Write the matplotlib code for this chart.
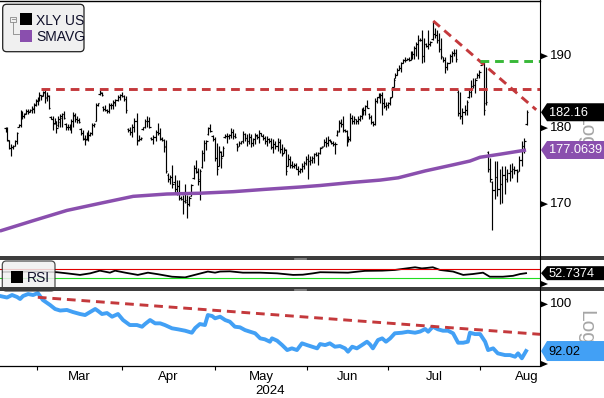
import numpy as np
import pandas as pd
import matplotlib
matplotlib.use('Agg')
import matplotlib.pyplot as plt
from matplotlib.patches import Polygon, FancyBboxPatch, Rectangle

plt.rcParams['font.family'] = ['Liberation Sans Narrow', 'Liberation Sans', 'DejaVu Sans']

W, H = 604, 398

# XLY US bars (two bars per trading day)
highs = [
    180.2, 180.2, 178.4, 177.9, 177.7, 178.4, 179.5, 180.5, 182.5, 182.3,
    182.0, 182.6, 182.6, 182.6, 183.0, 183.5, 184.0, 184.2, 185.0, 184.6,
    185.1, 185.4, 184.9, 184.6, 181.6, 181.6, 181.4, 180.9, 181.6, 181.9,
    182.1, 182.3, 180.7, 180.5, 180.5, 181.2, 182.2, 182.1, 181.6, 181.4,
    180.0, 179.8, 179.1, 179.5, 179.8, 179.5, 180.7, 180.7, 183.5, 183.5,
    185.3, 184.9, 183.0, 183.2, 182.6, 183.5, 183.5, 183.9, 184.0, 184.6,
    184.7, 184.9, 184.6, 184.4, 180.0, 180.2, 180.5, 181.4, 182.1, 179.1,
    178.8, 180.2, 181.2, 181.6, 181.5, 178.8, 179.1, 179.8, 180.7, 180.0,
    178.8, 178.6, 178.4, 174.0, 173.8, 175.1, 173.8, 173.1, 173.1, 171.0,
    171.2, 172.6, 171.2, 171.0, 172.6, 175.1, 175.8, 174.7, 174.5, 177.1,
    178.4, 178.4, 180.2, 180.5, 179.1, 178.8, 178.0, 177.6, 176.9, 177.6,
    179.2, 179.4, 179.2, 180.0, 179.9, 179.4, 178.0, 178.3, 178.3, 179.6,
    179.4, 179.2, 179.3, 179.2, 178.7, 179.4, 179.2, 179.7, 179.4, 179.2,
    178.9, 178.9, 178.7, 178.7, 178.5, 178.3, 178.7, 178.5, 177.8, 177.4,
    177.2, 176.5, 176.2, 175.6, 175.4, 175.4, 174.9, 174.7, 175.4, 175.6,
    176.2, 176.5, 176.2, 176.2, 176.7, 176.8, 176.8, 177.4, 177.6, 178.6,
    178.8, 179.0, 178.6, 178.3, 178.3, 178.1, 179.7, 181.1, 181.3, 181.6,
    179.9, 179.7, 179.0, 182.0, 181.8, 181.6, 181.3, 181.6, 181.8, 182.7,
    182.9, 183.2, 183.9, 182.0, 181.8, 180.9, 184.1, 184.3, 184.8, 184.8,
    185.0, 184.1, 183.6, 183.6, 184.3, 185.7, 186.9, 187.6, 188.3, 188.7,
    189.2, 189.6, 189.9, 189.7, 189.9, 190.7, 190.8, 191.5, 192.0, 193.1,
    192.6, 193.8, 192.6, 191.9, 193.8, 192.2, 195.0, 194.0, 193.8, 193.3,
    192.6, 189.9, 189.9, 189.2, 190.3, 190.8, 191.1, 191.0, 185.3, 185.0,
    182.7, 183.2, 183.9, 185.3, 186.6, 186.9, 186.9, 187.6, 188.0, 189.4,
    189.2, 188.5, 176.9, 176.0, 173.0, 175.6, 175.6, 174.5, 175.0, 175.0,
    174.5, 175.2, 175.3, 175.0, 174.5, 176.2, 178.2, 178.7, 182.5,
]
lows = [
    179.5, 178.2, 177.2, 176.2, 177.2, 177.6, 177.9, 180.1, 180.2, 181.3,
    181.4, 181.9, 181.9, 182.2, 182.1, 182.1, 183.0, 183.2, 183.7, 183.9,
    184.4, 183.5, 183.7, 182.6, 181.2, 179.8, 180.5, 179.3, 180.2, 180.2,
    180.2, 181.2, 179.8, 179.8, 179.7, 179.3, 180.2, 180.8, 180.7, 180.7,
    179.1, 178.4, 177.7, 178.4, 178.2, 178.9, 179.1, 180.2, 180.9, 183.0,
    184.6, 184.4, 182.3, 182.3, 182.1, 182.1, 182.6, 182.6, 183.0, 183.7,
    183.9, 184.2, 183.7, 182.1, 179.5, 179.1, 178.8, 179.5, 177.7, 178.2,
    178.4, 179.8, 180.0, 180.2, 180.0, 178.4, 177.9, 178.2, 179.1, 178.4,
    178.2, 176.8, 174.0, 172.8, 172.6, 172.1, 171.4, 171.2, 170.5, 170.5,
    168.7, 170.1, 168.3, 169.8, 171.0, 173.3, 174.0, 172.4, 170.5, 174.7,
    175.6, 177.0, 179.1, 179.5, 178.2, 175.6, 173.8, 174.9, 174.7, 176.2,
    178.7, 178.0, 178.6, 178.7, 178.5, 178.7, 176.9, 177.6, 177.8, 178.0,
    178.3, 177.6, 177.8, 177.5, 177.6, 177.9, 178.5, 178.0, 178.9, 178.4,
    177.8, 177.6, 178.0, 177.2, 176.7, 177.2, 176.9, 176.7, 176.2, 176.7,
    173.8, 174.9, 174.7, 174.7, 174.7, 174.5, 173.8, 174.0, 174.2, 174.5,
    175.1, 173.3, 175.1, 175.4, 175.4, 176.2, 175.1, 176.5, 177.4, 177.6,
    177.4, 177.6, 178.1, 177.9, 177.6, 176.5, 179.0, 179.5, 180.2, 179.5,
    179.5, 177.6, 178.1, 178.3, 180.6, 180.6, 180.6, 180.6, 180.9, 181.3,
    181.8, 181.8, 182.7, 181.3, 180.6, 180.3, 180.4, 183.4, 184.1, 183.4,
    181.8, 182.7, 182.5, 182.7, 183.2, 184.3, 185.7, 186.9, 187.3, 188.0,
    187.8, 189.0, 189.2, 189.4, 189.3, 189.4, 189.6, 189.6, 190.1, 189.6,
    192.2, 189.0, 189.2, 191.3, 191.0, 191.5, 192.4, 192.6, 191.9, 190.6,
    189.6, 189.2, 187.6, 188.0, 189.0, 189.2, 190.1, 189.2, 181.6, 181.3,
    180.6, 181.8, 181.8, 184.1, 184.3, 185.5, 184.8, 186.9, 186.9, 188.7,
    181.8, 183.2, 174.2, 172.8, 166.7, 170.6, 171.1, 170.0, 170.2, 171.3,
    172.8, 173.0, 173.4, 173.9, 172.8, 174.3, 175.0, 176.6, 180.4,
]
opens = [
    180.0, 179.6, 178.3, 177.3, 177.4, 177.6, 178.2, 180.1, 180.4, 181.8,
    181.6, 182.0, 182.3, 182.3, 182.4, 182.6, 183.2, 183.7, 183.9, 184.5,
    184.5, 184.8, 184.2, 184.4, 181.5, 181.2, 180.7, 180.7, 180.4, 180.8,
    181.4, 181.9, 180.5, 180.1, 180.2, 179.9, 181.0, 181.7, 181.2, 181.1,
    179.9, 179.4, 178.6, 178.5, 178.9, 179.1, 179.4, 180.4, 181.0, 183.2,
    184.7, 184.8, 182.9, 182.6, 182.5, 182.3, 183.1, 183.2, 183.5, 183.9,
    184.3, 184.5, 184.4, 184.0, 179.9, 179.7, 179.5, 180.2, 181.0, 178.4,
    178.6, 179.9, 180.2, 180.9, 181.0, 178.7, 178.5, 178.8, 179.5, 179.4,
    178.6, 178.4, 177.6, 173.8, 173.2, 173.5, 172.8, 172.0, 172.3, 170.8,
    170.6, 170.4, 170.3, 170.0, 171.1, 173.4, 174.7, 174.2, 173.0, 174.8,
    176.6, 178.0, 179.2, 180.0, 178.9, 178.5, 176.0, 174.9, 176.8, 176.3,
    178.8, 179.0, 178.9, 179.1, 179.5, 179.0, 177.9, 177.6, 178.0, 178.2,
    179.2, 178.7, 178.3, 178.8, 178.0, 178.5, 179.0, 178.8, 179.3, 179.0,
    178.7, 178.3, 178.5, 178.2, 177.5, 177.9, 177.6, 178.1, 177.2, 176.6,
    177.1, 174.9, 175.9, 175.1, 175.0, 175.1, 174.6, 174.3, 174.6, 175.0,
    175.4, 175.9, 175.6, 175.8, 176.0, 176.5, 176.4, 176.6, 177.4, 177.6,
    178.1, 178.0, 178.4, 178.2, 178.0, 177.9, 179.1, 179.6, 180.7, 180.6,
    179.8, 179.6, 178.3, 178.6, 181.4, 181.0, 181.2, 180.9, 181.3, 181.6,
    182.3, 182.5, 183.0, 181.9, 181.5, 180.8, 180.6, 183.7, 184.2, 184.4,
    184.5, 183.4, 183.0, 183.1, 183.4, 184.3, 185.7, 186.9, 187.4, 188.1,
    188.3, 189.0, 189.4, 189.5, 189.6, 189.5, 190.4, 190.3, 191.2, 191.8,
    192.4, 192.3, 190.0, 191.8, 191.5, 191.8, 192.5, 193.2, 193.0, 192.4,
    191.0, 189.9, 189.4, 188.4, 189.0, 190.0, 190.4, 190.5, 185.0, 182.0,
    181.6, 182.2, 182.4, 184.2, 185.0, 185.8, 186.0, 186.9, 187.4, 188.8,
    189.2, 183.4, 176.8, 174.6, 172.8, 171.8, 173.5, 172.0, 172.6, 173.8,
    173.2, 174.0, 174.3, 174.6, 174.4, 174.3, 175.8, 177.6, 180.5,
]
closes = [
    179.6, 178.4, 177.3, 177.4, 177.6, 178.3, 179.3, 180.4, 181.8, 181.6,
    181.9, 182.3, 182.2, 182.4, 182.8, 183.3, 183.8, 183.9, 184.6, 184.4,
    184.9, 184.1, 184.6, 182.8, 181.3, 180.5, 180.9, 180.0, 181.2, 181.6,
    181.9, 181.4, 180.1, 180.2, 180.0, 181.0, 181.8, 181.2, 181.1, 180.8,
    179.4, 178.7, 178.4, 178.9, 179.1, 179.4, 180.4, 180.6, 183.2, 183.4,
    184.9, 184.5, 182.6, 182.5, 182.3, 183.1, 183.2, 183.6, 183.9, 184.3,
    184.5, 184.4, 184.0, 182.4, 179.7, 179.5, 180.2, 180.9, 178.3, 178.6,
    178.7, 180.1, 180.9, 181.0, 180.2, 178.5, 178.8, 179.5, 179.4, 178.7,
    178.4, 177.4, 174.3, 173.2, 173.5, 172.6, 172.0, 172.3, 170.8, 170.7,
    170.4, 170.5, 170.0, 170.8, 172.4, 174.7, 174.3, 173.2, 174.3, 176.6,
    178.0, 178.2, 180.0, 179.6, 178.5, 176.0, 174.6, 176.9, 176.0, 177.3,
    179.0, 178.9, 179.1, 179.5, 179.0, 178.8, 177.4, 178.0, 178.2, 179.2,
    178.7, 178.3, 178.8, 178.0, 178.5, 179.1, 178.8, 179.3, 179.0, 178.7,
    178.3, 178.5, 178.2, 177.5, 177.9, 177.6, 178.1, 177.2, 176.5, 177.2,
    174.3, 175.9, 175.1, 175.0, 175.1, 174.6, 174.3, 174.6, 175.0, 175.4,
    175.9, 175.6, 175.8, 176.0, 176.5, 176.4, 176.6, 177.3, 177.5, 178.1,
    178.0, 178.4, 178.2, 178.0, 177.9, 177.8, 179.5, 180.8, 180.6, 179.8,
    179.6, 178.3, 178.6, 181.4, 181.0, 181.2, 180.9, 181.3, 181.6, 182.3,
    182.5, 183.0, 182.8, 181.5, 180.8, 180.6, 183.7, 184.2, 184.4, 184.5,
    183.4, 183.0, 183.1, 183.4, 184.1, 185.6, 186.6, 187.3, 188.1, 188.3,
    189.0, 189.4, 189.5, 189.6, 189.5, 190.4, 190.3, 191.2, 191.8, 192.4,
    192.3, 190.0, 191.8, 191.5, 191.8, 192.0, 193.2, 193.0, 192.4, 191.0,
    190.0, 189.4, 188.4, 189.0, 190.0, 190.4, 190.5, 189.6, 182.0, 181.6,
    182.2, 182.4, 183.6, 185.0, 185.8, 186.0, 186.6, 187.4, 187.7, 189.2,
    182.4, 183.6, 174.6, 173.2, 171.8, 173.5, 172.0, 172.6, 173.8, 173.2,
    174.0, 174.3, 174.6, 174.4, 174.2, 175.8, 177.6, 178.2, 182.16,
]
assert len(highs) == len(lows) == len(opens) == len(closes)

# time of some bars, in trading days since 16 Feb 2024
anchor_bar = [0, 55, 105, 157, 211, 228, 244, 258]
anchor_day = [0.95, 25.5, 50.5, 75.5, 99.6, 108.2, 116.3, 124.45]

# SMAVG (200d)
sma_day = [-0.4, 7.5, 15.5, 23.3, 31.2, 39.2, 47.0, 54.9, 62.4, 70.7,
           75.5, 83.1, 89.7, 94.0, 100.4, 107.0, 111.0, 113.4, 118.1, 124.3]
sma_val = [166.6, 167.9, 169.2, 170.1, 171.0, 171.3, 171.4, 171.6, 171.9, 172.2,
           172.4, 172.8, 173.1, 173.4, 174.3, 175.1, 175.6, 176.1, 176.5, 177.06]

# RSI
rsi_day = [0.35, 6.75, 13.1, 15.5, 18.6, 21.0, 23.3, 25.7, 26.9, 29.3,
           32.3, 34.7, 37.1, 40.4, 43.5, 46.6, 48.9, 50.6, 51.8, 54.1,
           57.2, 61.3, 65.3, 69.1, 71.4, 73.8, 75.5, 79.0, 82.1, 86.1,
           90.2, 93.2, 95.6, 98.0, 99.6, 100.8, 102.2, 103.9, 107.0, 109.4,
           111.7, 114.1, 115.7, 118.8, 121.2, 122.9, 124.3]
rsi_val = [58, 60, 57, 52, 45, 52, 64, 55, 64, 55,
           45, 55, 48, 37, 34, 49, 60, 55, 60, 61,
           55, 55, 52, 45, 46, 52, 57, 56, 55, 63,
           64, 67, 73, 79, 74, 76, 79, 67, 60, 45,
           49, 55, 37, 37, 41, 49, 52.74]

# relative line (lower panel)
rel_day = [-0.36, 1.3, 2.5, 3.7, 4.4, 5.1, 6.3, 7.5, 8.6, 9.8,
           11.5, 12.7, 13.9, 15.5, 16.9, 18.6, 19.8, 21.0, 22.2, 22.9,
           23.8, 25.0, 26.2, 27.6, 28.8, 30.4, 32.1, 33.3, 34.0, 35.2,
           36.4, 37.6, 38.7, 40.4, 41.8, 43.5, 45.1, 45.9, 47.0, 48.2,
           48.9, 49.9, 50.6, 51.8, 53.0, 54.1, 55.3, 56.5, 57.7, 58.9,
           60.1, 61.3, 62.4, 63.6, 64.1, 65.3, 66.5, 67.7, 68.8, 70.0,
           71.2, 72.4, 73.6, 74.8, 75.5, 76.7, 77.8, 79.0, 80.2, 81.4,
           82.1, 83.1, 84.2, 85.4, 86.6, 87.3, 88.0, 89.2, 90.2, 91.1,
           92.1, 93.2, 94.9, 96.3, 98.0, 99.2, 100.4, 101.1, 102.2, 103.4,
           104.6, 105.8, 107.0, 108.2, 109.4, 110.5, 111.0, 112.2, 113.4, 114.6,
           115.3, 116.5, 117.6, 119.3, 120.5, 121.7, 122.4, 123.3, 124.3]
rel_val = [101.49, 101.22, 101.67, 101.31, 100.95, 101.49, 101.85, 101.67, 102.03, 100.77,
           99.88, 99.17, 98.90, 99.00, 98.64, 98.29, 98.11, 98.64, 99.17, 98.81,
           98.29, 98.46, 97.82, 98.29, 97.24, 96.38, 96.38, 96.09, 96.55, 97.24,
           96.67, 96.67, 96.38, 95.82, 95.65, 95.41, 95.07, 95.87, 96.55, 96.38,
           98.11, 97.94, 97.54, 97.82, 97.24, 96.95, 96.09, 95.99, 95.52, 95.24,
           94.97, 94.12, 93.96, 93.56, 94.12, 93.73, 93.00, 92.18, 92.46, 92.18,
           93.29, 93.00, 92.73, 92.46, 93.17, 93.00, 93.29, 92.73, 92.84, 92.46,
           91.91, 92.73, 92.46, 93.00, 93.56, 93.12, 92.46, 93.84, 94.12, 93.56,
           94.12, 94.97, 95.07, 95.24, 95.07, 95.27, 95.70, 95.24, 96.09, 95.65,
           95.41, 95.41, 94.97, 93.39, 93.39, 93.56, 95.07, 94.84, 94.84, 93.56,
           92.18, 92.46, 91.64, 91.36, 91.36, 91.09, 91.64, 90.84, 92.02]

last_price, last_sma, last_rsi, last_rel = 182.16, 177.0639, 52.7374, 92.02

# drawn trend lines
resist_lvl, resist_day = 185.4, 9.3
down_day, down_val = [102.3, 126.7], [195.1, 182.5]
green_lvl, green_day = 189.3, 113.4
rel_trend_day, rel_trend_val = [8.6, 127.6], [101.26, 94.8]
rsi_hi, rsi_lo = 70, 30

months = ['Mar', 'Apr', 'May', 'Jun', 'Jul', 'Aug']
holidays = pd.to_datetime(['2024-02-19', '2024-03-29', '2024-05-27',
                           '2024-06-19', '2024-07-04', '2024-09-02'])
days = pd.bdate_range('2024-02-16', '2024-09-30')
days = days[~days.isin(holidays)]
starts = [np.argmax(days.month == m) - 0.5 for m in range(3, 10)]
mticks = starts[:-1]
mmids = [(a + b) / 2 for a, b in zip(starts[:-1], starts[1:])]

PURPLE = '#8a4fae'
RED = '#c4393c'
BLUE = '#42a0f5'
FS = 9.5

fig = plt.figure(figsize=(W / 100, H / 100), dpi=100)


def panel(top, bottom):
    return fig.add_axes([0, 1 - bottom / H, 540 / W, (bottom - top) / H])


ax = panel(0, 256)
ax_rsi = panel(260, 287)
ax_rel = panel(291, 366)
xlim = (-0.36, 127.6)

pos = np.interp(np.arange(len(highs)), anchor_bar, anchor_day)
bar = dict(color='black', lw=0.85)
ax.vlines(pos, lows, highs, **bar)
ax.hlines(opens, pos - 0.33, pos, **bar)
ax.hlines(closes, pos, pos + 0.33, **bar)
ax.plot(sma_day, sma_val, color=PURPLE, lw=2.5, solid_capstyle='butt')
dash = dict(lw=2.1, dashes=(3, 2))
ax.plot([resist_day, xlim[1]], [resist_lvl] * 2, color=RED, **dash)
ax.plot(down_day, down_val, color=RED, **dash)
ax.plot([green_day, xlim[1]], [green_lvl] * 2, color='#38b838', **dash)
ax.set_yscale('log')
ax.set_ylim(163.5, 198.2)

ax_rsi.plot(rsi_day, rsi_val, color='black', lw=1.3)
ax_rsi.axhline(rsi_hi, color='#e00000', lw=0.8)
ax_rsi.axhline(rsi_lo, color='#20dd20', lw=0.8)
ax_rsi.set_ylim(-8.7, 111.3)

ax_rel.plot(rel_day, rel_val, color=BLUE, lw=2.8)
ax_rel.plot(rel_trend_day, rel_trend_val, color=RED, **dash)
ax_rel.set_yscale('log')
ax_rel.set_ylim(89.6, 102.4)

for a in (ax, ax_rsi, ax_rel):
    a.set_xlim(*xlim)
    a.set_yticks([])
    a.set_yticks([], minor=True)
    a.set_xticks([])
    a.patch.set_alpha(0)
    for s in a.spines.values():
        s.set_visible(False)

ax_rel.spines['bottom'].set_visible(True)
ax_rel.spines['bottom'].set_linewidth(0.9)
ax_rel.set_xticks(mticks)
ax_rel.set_xticklabels([])
ax_rel.tick_params(axis='x', direction='out', length=3, width=0.8)

# overlay in pixel units for the frame, tags and legends
ov = fig.add_axes([0, 0, 1, 1], zorder=10)
ov.set_xlim(0, W)
ov.set_ylim(H, 0)
ov.axis('off')


def ypix(a, v):
    return H - a.transData.transform((0, v))[1]


def xpix(a, u):
    return a.transData.transform((u, 0))[0]


ov.plot([0, 540], [0.5, 0.5], color='black', lw=1)
ov.plot([540, 540], [0, 366], color='black', lw=0.8)
for top in (256, 287):
    ov.add_patch(Rectangle((0, top), W, 4, fc='#3d3d3d', ec='none'))
    ov.plot([294, 306], [top + 1.5, top + 1.5], color='#9a9a9a', lw=0.5)
    ov.plot([294, 306], [top + 2.5, top + 2.5], color='#9a9a9a', lw=0.5)


def tri(y):
    ov.add_patch(Polygon([(541, y - 3), (548, y), (541, y + 3)], fc='black', ec='none'))


def tag(y, s, fc, tc, h):
    ov.add_patch(Polygon([(541, y), (547, y - h / 2), (W, y - h / 2), (W, y + h / 2),
                          (547, y + h / 2)], fc=fc, ec='none', zorder=5))
    ov.text(548.5, y + 0.5, s, color=tc, fontsize=9.2, va='center', ha='left', zorder=6)


ov.text(586, ypix(ax, 179.5), 'Log', rotation=270, color='#a6a6a6', fontsize=15,
        ha='center', va='center', zorder=1)
ov.text(586, ypix(ax_rel, 96.0), 'Log', rotation=270, color='#a6a6a6', fontsize=15,
        ha='center', va='center', zorder=1)

for v in (170, 180, 190):
    tri(ypix(ax, v))
    ov.text(550, ypix(ax, v), str(v), fontsize=FS, va='center', ha='left')
tri(ypix(ax_rel, 100))
ov.text(550, ypix(ax_rel, 100), '100', fontsize=FS, va='center', ha='left')
tri(284)
tri(364)

tag(ypix(ax, last_price), f'{last_price:.2f}', 'black', 'white', 18)
tag(ypix(ax, last_sma), f'{last_sma:.4f}', PURPLE, 'white', 18)
tag(ypix(ax_rsi, last_rsi), f'{last_rsi:.4f}', 'black', 'white', 14)
tag(ypix(ax_rel, last_rel), f'{last_rel:.2f}', BLUE, 'black', 20)

for u, m in zip(mmids, months):
    ov.text(xpix(ax_rel, u), 377, m, fontsize=FS, ha='center', va='center')
ov.text(270, 391, '2024', fontsize=FS, ha='center', va='center')

# legends
ov.add_patch(FancyBboxPatch((2.7, 4.3), 81.3, 47.4, boxstyle='round,pad=0,rounding_size=4',
                            fc='#f0f0f0', ec='#202020', lw=0.9))
ov.add_patch(Rectangle((10.3, 16.7), 5.5, 5.5, fc='none', ec='#888888', lw=0.6))
ov.plot([11.5, 14.6], [19.45, 19.45], color='#888888', lw=0.6)
ov.plot([13, 13, 18.5], [22.2, 34, 34], color='#888888', lw=0.6)
ov.add_patch(Rectangle((20, 13.3), 11.7, 11.7, fc='black', ec='none'))
ov.add_patch(Rectangle((20, 30), 11.7, 11.7, fc=PURPLE, ec='none'))
ov.text(36, 21, 'XLY US', fontsize=10, va='center', ha='left', color='#10102a')
ov.text(36, 37, 'SMAVG', fontsize=10, va='center', ha='left', color='#10102a')

ov.add_patch(FancyBboxPatch((2.3, 261), 52.7, 30, boxstyle='round,pad=0,rounding_size=4',
                            fc='#f0f0f0', ec='#303030', lw=0.9, alpha=0.85))
ov.add_patch(Rectangle((11, 271), 11.7, 11.7, fc='black', ec='none'))
ov.text(27, 278, 'RSI', fontsize=10, va='center', ha='left', color='#10102a')
ov.add_patch(Rectangle((0, 287), W, 4, fc='#3d3d3d', ec='none'))

fig.savefig('out.png', dpi=100)
